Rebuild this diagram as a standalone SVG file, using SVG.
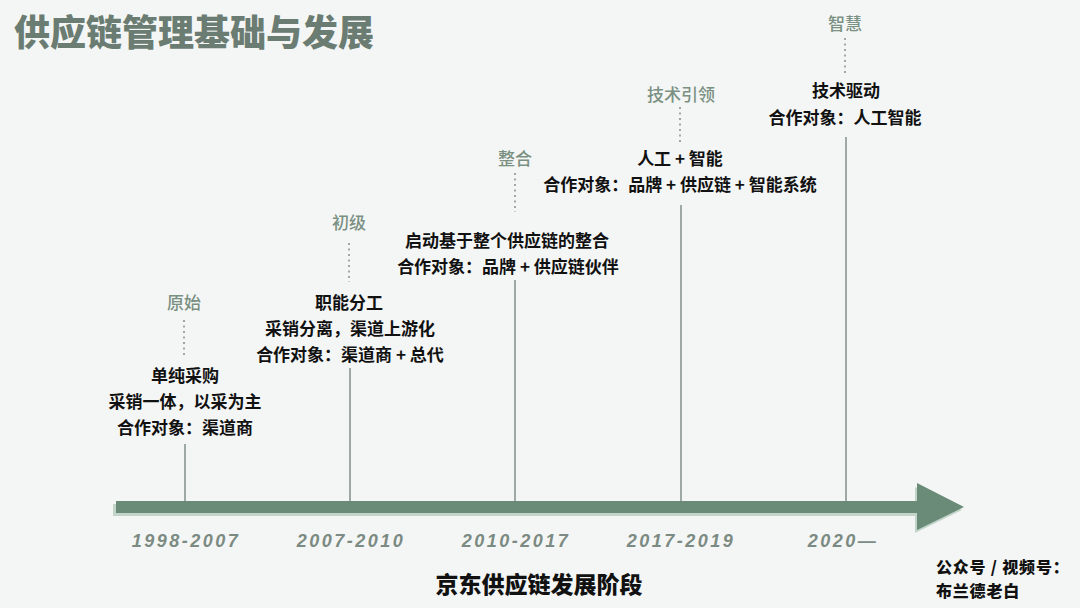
<svg xmlns="http://www.w3.org/2000/svg" width="1080" height="608" viewBox="0 0 1080 608">
  <style>
    .title { font-family: "Noto Sans CJK SC", "Liberation Sans", sans-serif; font-size: 36px; font-weight: 900; fill: #6b7c72; }
    .stage { font-family: "Noto Sans CJK SC", "Liberation Sans", sans-serif; font-size: 17px; font-weight: 500; fill: #7a9082; text-anchor: middle; }
    .body { font-family: "Noto Sans CJK SC", "Liberation Sans", sans-serif; font-size: 17px; font-weight: 700; fill: #111111; text-anchor: middle; }
    .date { font-family: "Liberation Sans", "DejaVu Sans", sans-serif; font-size: 18px; font-weight: 700; font-style: italic; fill: #7b8a82; text-anchor: middle; letter-spacing: 2.5px; }
    .caption { font-family: "Noto Sans CJK SC", "Liberation Sans", sans-serif; font-size: 23px; font-weight: 900; fill: #111111; text-anchor: middle; }
    .credit { font-family: "Noto Sans CJK SC", "Liberation Sans", sans-serif; font-size: 16px; font-weight: 900; fill: #111111; }
    .stem { stroke: #8a968f; stroke-width: 1.6; fill: none; }
    .dots { stroke: #8a968f; stroke-width: 1.6; stroke-dasharray: 2 3.5; fill: none; }
  </style>
  <rect width="1080" height="608" fill="#f4f6f5"/>

  <text id="title" class="title" x="14" y="46">供应链管理基础与发展</text>

  <g id="connectors">
    <line class="stem" x1="185" y1="444" x2="185" y2="501"/>
    <line class="stem" x1="350" y1="368" x2="350" y2="501"/>
    <line class="stem" x1="515" y1="280" x2="515" y2="501"/>
    <line class="stem" x1="681" y1="205" x2="681" y2="501"/>
    <line class="stem" x1="846" y1="137" x2="846" y2="501"/>
    <line class="dots" x1="184" y1="320" x2="184" y2="357"/>
    <line class="dots" x1="349" y1="243" x2="349" y2="282"/>
    <line class="dots" x1="515" y1="173" x2="515" y2="212"/>
    <line class="dots" x1="680" y1="107" x2="680" y2="145"/>
    <line class="dots" x1="845" y1="38" x2="845" y2="75"/>
  </g>

  <g id="timeline-arrow">
    <path d="M113 504 H915 V487 L962 510 L915 533 V516 H113 Z" fill="#c3d4ca"/>
    <path d="M116 501 H917 V483 L964 507 L917 530 V513 H116 Z" fill="#6a8b78"/>
  </g>

  <g id="node-1998">
    <text class="stage" x="184" y="309">原始</text>
    <text class="body" x="185" y="382">单纯采购</text>
    <text class="body" x="185" y="408">采销一体，以采为主</text>
    <text class="body" x="185" y="434">合作对象：渠道商</text>
    <text class="date" x="186" y="547">1998-2007</text>
  </g>

  <g id="node-2007">
    <text class="stage" x="349" y="229">初级</text>
    <text class="body" x="349" y="309">职能分工</text>
    <text class="body" x="350" y="335">采销分离，渠道上游化</text>
    <text class="body" x="350" y="361">合作对象：渠道商 + 总代</text>
    <text class="date" x="351" y="547">2007-2010</text>
  </g>

  <g id="node-2010">
    <text class="stage" x="515" y="165">整合</text>
    <text class="body" x="507" y="247">启动基于整个供应链的整合</text>
    <text class="body" x="508" y="273">合作对象：品牌 + 供应链伙伴</text>
    <text class="date" x="516" y="547">2010-2017</text>
  </g>

  <g id="node-2017">
    <text class="stage" x="681" y="101">技术引领</text>
    <text class="body" x="680" y="165">人工 + 智能</text>
    <text class="body" x="680" y="191">合作对象：品牌 + 供应链 + 智能系统</text>
    <text class="date" x="681" y="547">2017-2019</text>
  </g>

  <g id="node-2020">
    <text class="stage" x="845" y="30">智慧</text>
    <text class="body" x="846" y="97">技术驱动</text>
    <text class="body" x="845" y="124">合作对象：人工智能</text>
    <text class="date" x="843" y="547">2020—</text>
  </g>

  <text id="caption" class="caption" x="539" y="593">京东供应链发展阶段</text>

  <g id="credit">
    <text class="credit" x="936" y="573" letter-spacing="0.8">公众号 / 视频号：</text>
    <text class="credit" x="936" y="597" letter-spacing="0.8">布兰德老白</text>
  </g>
</svg>
